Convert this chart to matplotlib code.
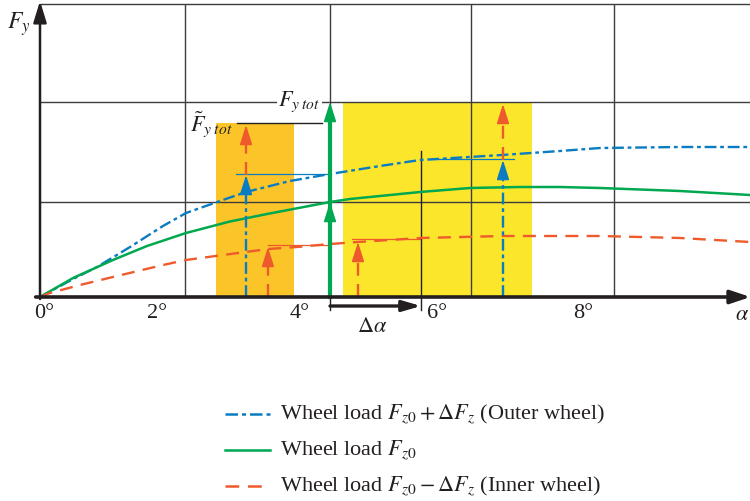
import numpy as np
import matplotlib.pyplot as plt
from matplotlib.patches import FancyArrowPatch, Rectangle

plt.rcParams['font.family'] = ['Liberation Serif', 'DejaVu Serif']
plt.rcParams['mathtext.fontset'] = 'stix'

# == Curves (x in grid cells, y in force units) == #
alpha_outer = [0, 0.228, 0.393, 0.621, 0.848, 1.007, 1.241, 1.421, 1.724, 2.0,
               2.345, 2.621, 3.186, 3.586, 3.862, 4.414, 4.897]
fy_outer = [0, 0.18, 0.30, 0.50, 0.71, 0.84, 0.96, 1.05, 1.16, 1.23,
            1.31, 1.37, 1.42, 1.46, 1.49, 1.50, 1.50]

alpha_mid = [0, 0.228, 0.503, 0.738, 1.007, 1.31, 1.566, 2.0, 2.138, 2.621,
             2.966, 3.31, 3.586, 3.862, 4.414, 4.897]
fy_mid = [0, 0.19, 0.37, 0.51, 0.64, 0.755, 0.83, 0.95, 0.98, 1.05,
          1.09, 1.10, 1.10, 1.09, 1.06, 1.02]

alpha_inner = [0, 0.069, 0.276, 0.503, 0.848, 1.007, 1.262, 1.572, 1.772, 2.0,
               2.193, 2.621, 3.193, 3.586, 3.862, 4.414, 4.897]
fy_inner = [0, 0.04, 0.12, 0.20, 0.32, 0.37, 0.42, 0.48, 0.50, 0.53,
            0.55, 0.59, 0.61, 0.61, 0.61, 0.59, 0.55]

# == Grid, ticks, regions == #
grid_x = [1.0, 2.0, 2.97, 3.96]
grid_y = [0.95, 1.95, 2.93]
tick_pos = [0.028, 0.807, 1.793, 2.738, 3.745]
tick_lab = ['0°', '2°', '4°', '6°', '8°']

region_orange = (1.214, 1.752, 1.74)   # x0, x1, top
region_yellow = (2.09, 3.393, 1.95)

# arrows: x, y start, y tip, colour key
arrows = [
    (1.421, 0.0, 1.22, 'outer'),
    (1.421, 1.22, 1.72, 'inner'),
    (1.572, 0.0, 0.50, 'inner'),
    (2.193, 0.0, 0.55, 'inner'),
    (3.193, 0.0, 1.37, 'outer'),
    (3.193, 1.37, 1.93, 'inner'),
]
# value markers: y, x0, x1, colour key
levels = [
    (1.23, 1.352, 2.0, 'outer'),
    (0.52, 1.572, 2.0, 'inner'),
    (0.58, 2.152, 2.621, 'inner'),
    (1.38, 2.69, 3.27, 'outer'),
]

legend_labels = [r'Wheel load $F_{z0} + \Delta F_z$ (Outer wheel)',
                 r'Wheel load $F_{z0}$',
                 r'Wheel load $F_{z0} - \Delta F_z$ (Inner wheel)']

colors = {'outer': '#0A7CC1', 'mid': '#00A84F', 'inner': '#EE5A2C'}
styles = {'outer': (0, (5, 1.6, 1.6, 1.6)), 'mid': '-', 'inner': (0, (5.5, 3.5))}
dark = '#231F20'
gridc = '#3C3C3C'

fig = plt.figure(figsize=(7.5, 5.01), dpi=100)
ax = fig.add_axes([0, 0, 1, 1])
ax.set_xlim(-0.2759, 4.8966)
ax.set_ylim(-2.04, 2.97)
ax.axis('off')

# Regions
for (x0, x1, top), c in ((region_orange, '#FBC52A'), (region_yellow, '#FCE62C')):
    ax.add_patch(Rectangle((x0, 0), x1 - x0, top, color=c, lw=0, zorder=1))

# Grid
ax.vlines(grid_x, 0, grid_y[-1], color=gridc, lw=1.0, zorder=2)
ax.hlines(grid_y, 0, 4.9, color=gridc, lw=1.0, zorder=2)

# Curves
ax.plot(alpha_outer, fy_outer, color=colors['outer'], lw=1.7, ls=styles['outer'], zorder=4)
ax.plot(alpha_mid, fy_mid, color=colors['mid'], lw=1.8, ls='-', zorder=4)
ax.plot(alpha_inner, fy_inner, color=colors['inner'], lw=1.7, ls=styles['inner'], zorder=4)

# Value markers
for y, x0, x1, k in levels:
    ax.plot([x0, x1], [y, y], color=colors[k], lw=0.9, zorder=3)


def head(x, y0, y1, c, lw=1.2, hl=12, hw=3.8):
    ax.add_patch(FancyArrowPatch((x, y0), (x, y1), mutation_scale=1,
                                 arrowstyle='-|>,head_length=%g,head_width=%g' % (hl, hw),
                                 color=c, lw=lw, shrinkA=0, shrinkB=0, zorder=5))


hl_data = 0.17
for x, y0, y1, k in arrows:
    ax.plot([x, x], [y0, y1 - hl_data], color=colors[k], lw=1.7, ls=styles[k], zorder=5)
    head(x, y1 - hl_data, y1, colors[k])

# Green double arrow (F_y tot)
ax.plot([2.0, 2.0], [0, 1.95 - hl_data], color=colors['mid'], lw=3.0, zorder=5)
head(2.0, 0.95 - hl_data, 0.95, colors['mid'])
head(2.0, 1.95 - hl_data, 1.95, colors['mid'])

# Black marker lines
ax.plot([1.359, 1.945], [1.74, 1.74], color=dark, lw=1.0, zorder=3)
ax.plot([2.628, 2.628], [-0.13, 1.46], color=dark, lw=1.0, zorder=3)
ax.plot([2.0, 2.0], [-0.13, 0], color=dark, lw=1.0, zorder=3)
ax.add_patch(FancyArrowPatch((2.0, -0.09), (2.628, -0.09), mutation_scale=1,
                             arrowstyle='-|>,head_length=11,head_width=3.2',
                             color=dark, lw=2.4, shrinkA=0, shrinkB=0, zorder=6))

# Axes
ax.add_patch(FancyArrowPatch((-0.03, 0), (4.9, 0), mutation_scale=1,
                             arrowstyle='-|>,head_length=12,head_width=4',
                             color=dark, lw=2.6, shrinkA=0, shrinkB=0, zorder=6))
ax.add_patch(FancyArrowPatch((0, -0.02), (0, 2.96), mutation_scale=1,
                             arrowstyle='-|>,head_length=13,head_width=4',
                             color=dark, lw=1.8, shrinkA=0, shrinkB=0, zorder=6))

# Texts
fs = 16
for p, t in zip(tick_pos, tick_lab):
    ax.text(p, -0.165, t, ha='center', va='center', fontsize=fs, color=dark)
ax.text(4.89, -0.18, r'$\alpha$', ha='right', va='center', fontsize=fs, color=dark)
ax.text(-0.15, 2.73, r'$F_y$', ha='center', va='center', fontsize=17, color=dark)
ax.text(2.29, -0.30, r'$\Delta\alpha$', ha='center', va='center', fontsize=fs, color=dark)
ax.text(1.79, 1.95, r'$F_{y\;tot}$', ha='center', va='center', fontsize=fs, color=dark,
        bbox=dict(fc='white', ec='none', pad=1), zorder=3)
ax.text(1.185, 1.73, r'$\tilde{F}_{y\;tot}$', ha='center', va='center', fontsize=fs,
        color=dark, zorder=3)

# Legend
keys = ['outer', 'mid', 'inner']
for i, (k, lab) in enumerate(zip(keys, legend_labels)):
    y = -1.17 - 0.36 * i
    ax.plot([1.276, 1.586], [y, y], color=colors[k], lw=1.8, ls=styles[k])
    ax.text(1.655, y, lab, ha='left', va='center', fontsize=fs, color=dark)

fig.savefig('out.png', dpi=100)
